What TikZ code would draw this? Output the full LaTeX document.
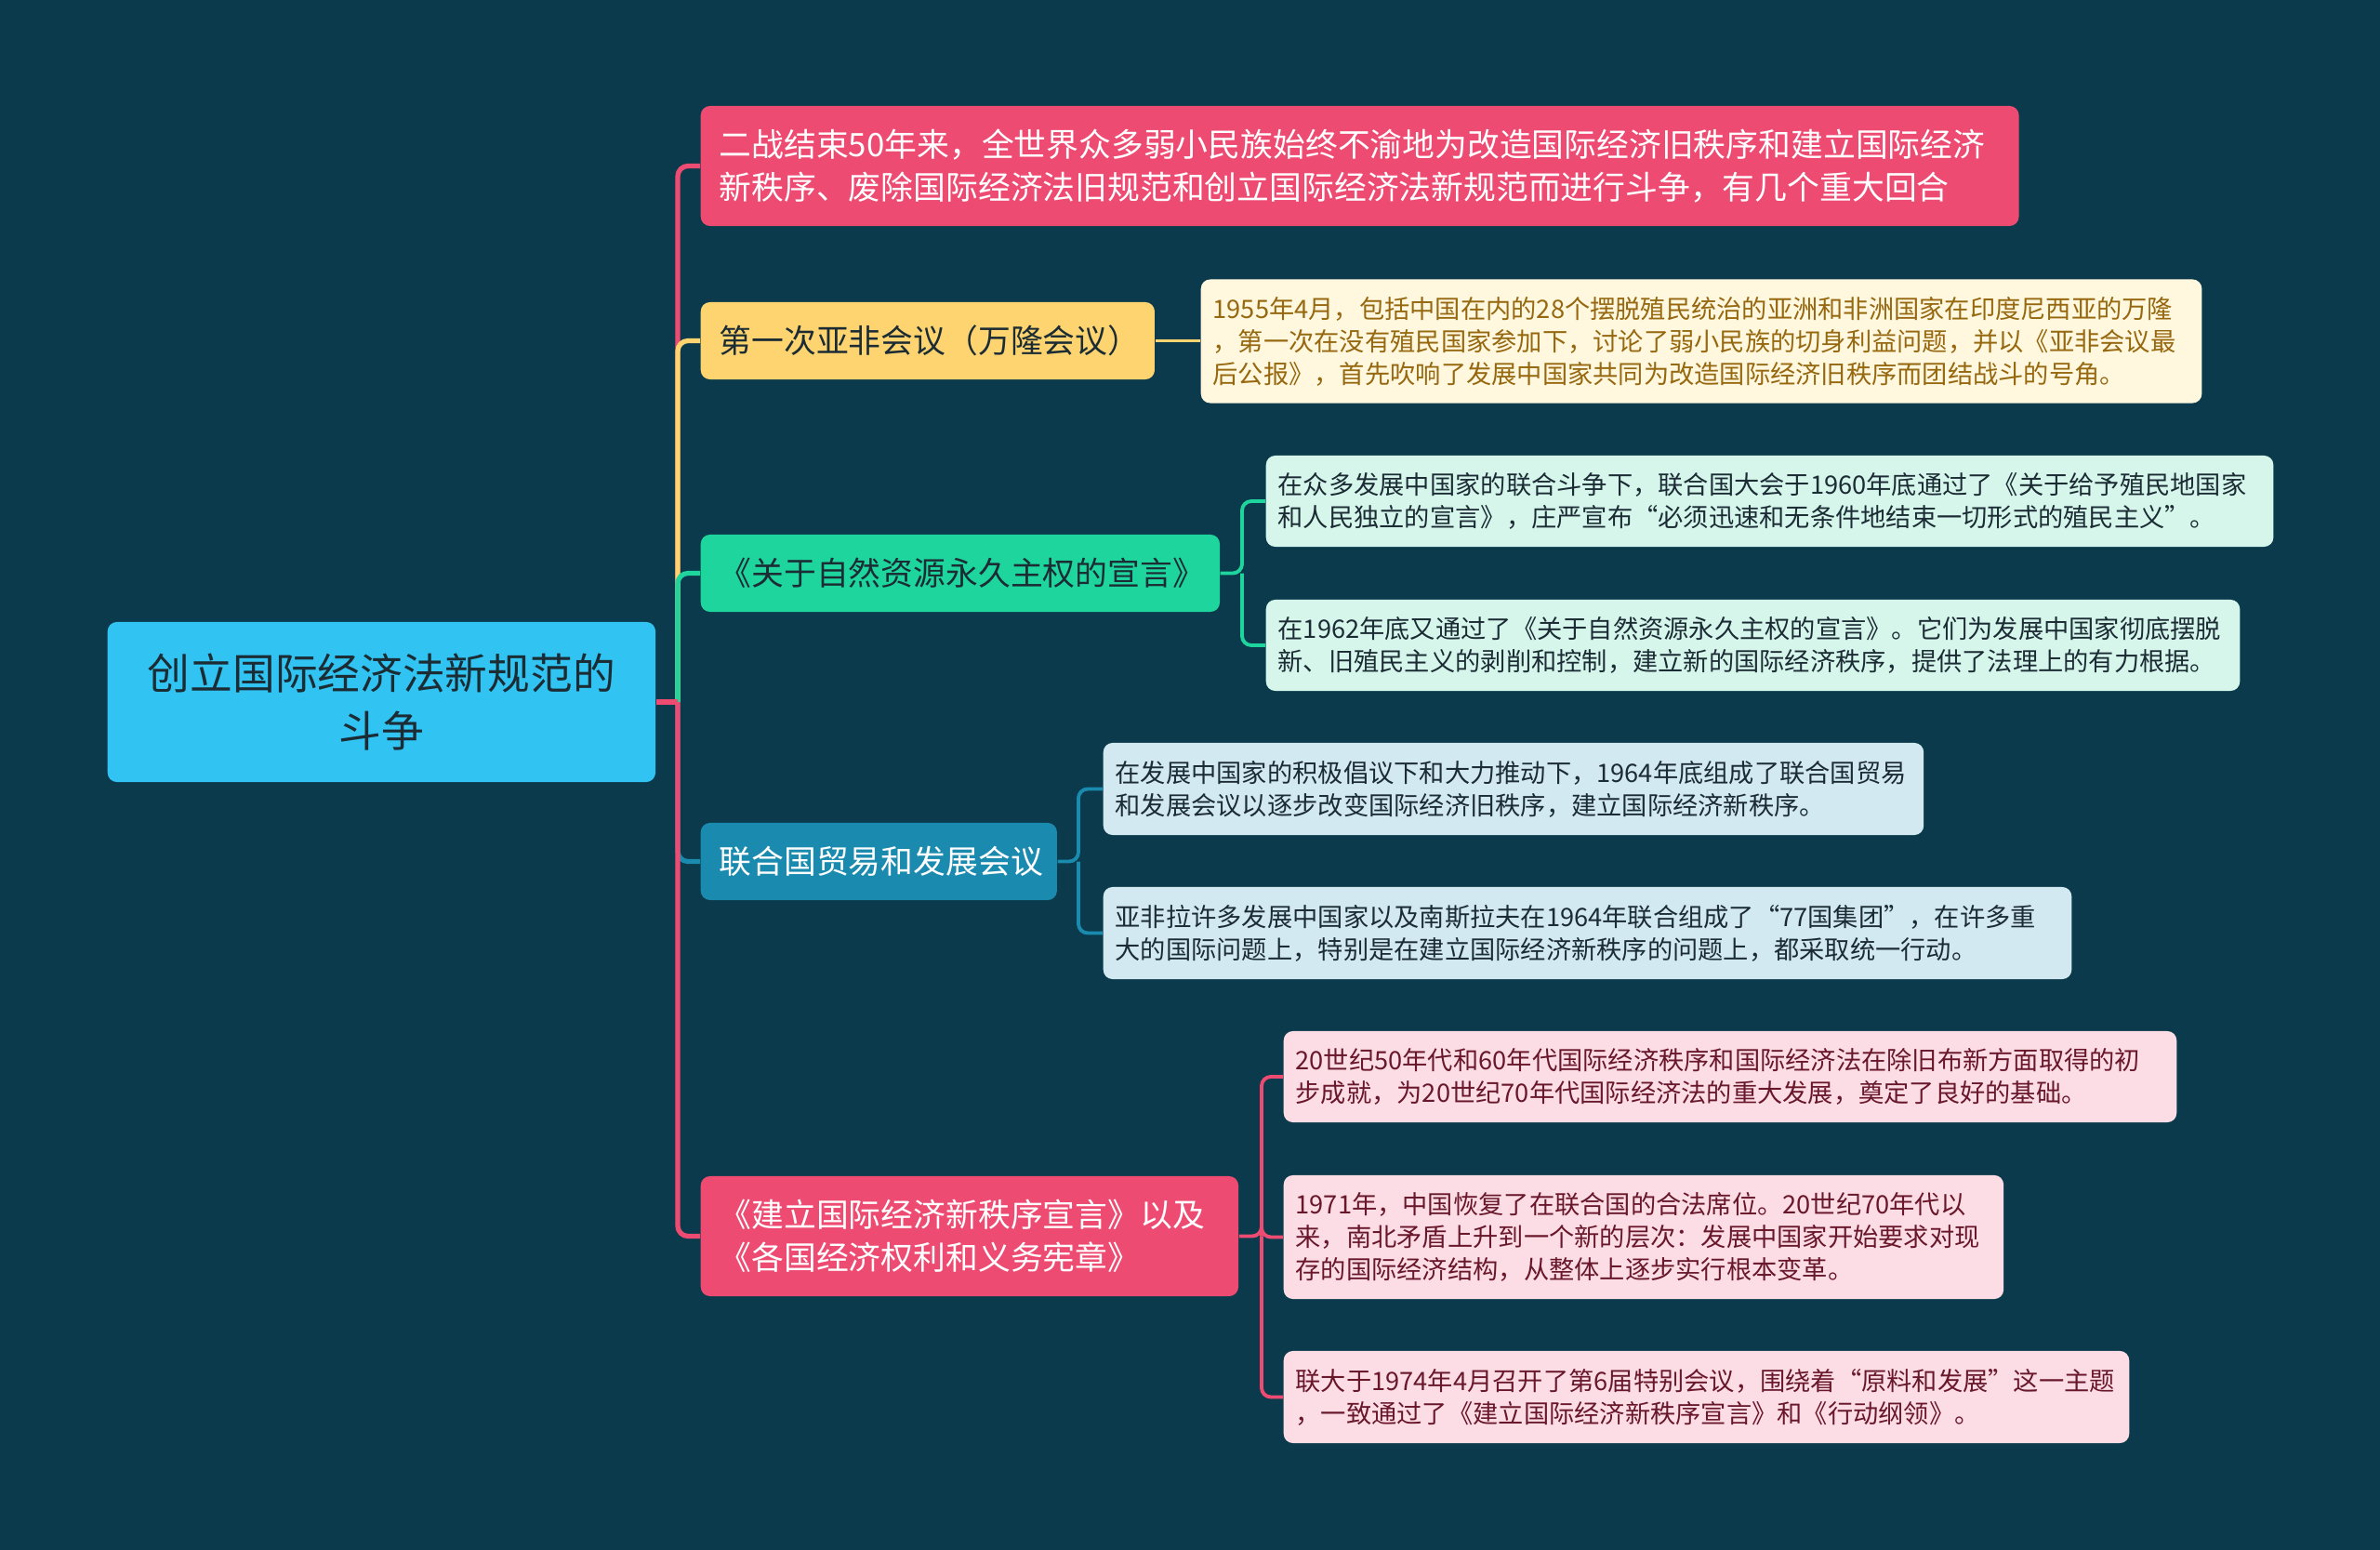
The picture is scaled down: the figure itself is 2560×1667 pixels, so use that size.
\documentclass[tikz,border=0pt]{standalone}
\usepackage{fontspec}
\setmainfont{Noto Sans CJK SC}
\usepackage{tikz}
\usetikzlibrary{positioning,calc}
\usepackage{xcolor}
\definecolor{bgdark}{RGB}{10,58,75}
\definecolor{rootblue}{RGB}{49,196,243}
\definecolor{rosered}{RGB}{238,75,114}
\definecolor{sunyellow}{RGB}{253,212,111}
\definecolor{mintgreen}{RGB}{30,213,157}
\definecolor{seablue}{RGB}{26,139,174}
\definecolor{creamfill}{RGB}{255,247,222}
\definecolor{creamtext}{RGB}{150,104,16}
\definecolor{mintfill}{RGB}{214,246,236}
\definecolor{icefill}{RGB}{210,233,241}
\definecolor{pinkfill}{RGB}{253,221,229}
\definecolor{maroon}{RGB}{105,24,44}
\definecolor{inkdark}{RGB}{28,44,52}
\tikzset{
  topicbox/.style={rectangle, rounded corners=0.1cm, inner xsep=0.2cm, inner ysep=0pt,
                   anchor=west, align=left, font=\fontsize{9.9pt}{13pt}\selectfont},
  notebox/.style={rectangle, rounded corners=0.1cm, inner xsep=0.13cm, inner ysep=0pt,
                  anchor=west, align=left, font=\fontsize{7.75pt}{9.96pt}\selectfont},
  lnk/.style={line width=1.5pt, rounded corners=0.11cm},
}

\begin{document}
\begin{tikzpicture}[
    x=0.01cm, y=-0.01cm,
    rootbox/.style={rectangle, rounded corners=0.1cm, fill=rootblue, text=inkdark,
                    text width=5.49cm, minimum height=1.72cm, inner xsep=0.2cm,
                    anchor=west, align=center, font=\fontsize{13pt}{17.6pt}\selectfont},
    sublnk/.style={line width=1.1pt, rounded corners=0.1cm}
  ]
    \fill[bgdark] (0,0) rectangle (2560,1667);

    % root and main topics
    \node[rootbox] (root) at (115,755) {创立国际经济法新规范的\\斗争};
    \node[topicbox, fill=rosered, text=white, text width=13.77cm, minimum height=1.29cm] (rounds) at (753,178.5)
      {二战结束50年来，全世界众多弱小民族始终不渝地为改造国际经济旧秩序和建立国际经济\\新秩序、废除国际经济法旧规范和创立国际经济法新规范而进行斗争，有几个重大回合};
    \node[topicbox, fill=sunyellow, text=inkdark, text width=4.48cm, minimum height=0.83cm] (bandung) at (753,366.5)
      {第一次亚非会议（万隆会议）};
    \node[topicbox, fill=mintgreen, text=inkdark, text width=5.18cm, minimum height=0.83cm] (resdecl) at (753,616.5)
      {《关于自然资源永久主权的宣言》};
    \node[topicbox, fill=seablue, text=white, text width=3.43cm, minimum height=0.83cm] (unctad) at (753,926.5)
      {联合国贸易和发展会议};
    \node[topicbox, fill=rosered, text=white, text width=5.38cm, minimum height=1.29cm] (neworder) at (753,1329.5)
      {《建立国际经济新秩序宣言》以及\\《各国经济权利和义务宪章》};

    % notes
    \node[notebox, fill=creamfill, text=creamtext, text width=10.5cm, minimum height=1.33cm] (bandungnote) at (1291,367)
      {1955年4月，包括中国在内的28个摆脱殖民统治的亚洲和非洲国家在印度尼西亚的万隆\\，第一次在没有殖民国家参加下，讨论了弱小民族的切身利益问题，并以《亚非会议最\\后公报》，首先吹响了发展中国家共同为改造国际经济旧秩序而团结战斗的号角。};
    \node[notebox, fill=mintfill, text=inkdark, text width=10.57cm, minimum height=0.98cm] (resnotea) at (1361,539)
      {在众多发展中国家的联合斗争下，联合国大会于1960年底通过了《关于给予殖民地国家\\和人民独立的宣言》，庄严宣布“必须迅速和无条件地结束一切形式的殖民主义”。};
    \node[notebox, fill=mintfill, text=inkdark, text width=10.21cm, minimum height=0.98cm] (resnoteb) at (1361,694)
      {在1962年底又通过了《关于自然资源永久主权的宣言》。它们为发展中国家彻底摆脱\\新、旧殖民主义的剥削和控制，建立新的国际经济秩序，提供了法理上的有力根据。};
    \node[notebox, fill=icefill, text=inkdark, text width=8.56cm, minimum height=0.99cm] (unctadnotea) at (1186,848.5)
      {在发展中国家的积极倡议下和大力推动下，1964年底组成了联合国贸易\\和发展会议以逐步改变国际经济旧秩序，建立国际经济新秩序。};
    \node[notebox, fill=icefill, text=inkdark, text width=10.15cm, minimum height=0.99cm] (unctadnoteb) at (1186,1003.5)
      {亚非拉许多发展中国家以及南斯拉夫在1964年联合组成了“77国集团”，在许多重\\大的国际问题上，特别是在建立国际经济新秩序的问题上，都采取统一行动。};
    \node[notebox, fill=pinkfill, text=maroon, text width=9.34cm, minimum height=0.98cm] (ordernotea) at (1380,1158)
      {20世纪50年代和60年代国际经济秩序和国际经济法在除旧布新方面取得的初\\步成就，为20世纪70年代国际经济法的重大发展，奠定了良好的基础。};
    \node[notebox, fill=pinkfill, text=maroon, text width=7.48cm, minimum height=1.33cm] (ordernoteb) at (1380,1330.5)
      {1971年，中国恢复了在联合国的合法席位。20世纪70年代以\\来，南北矛盾上升到一个新的层次：发展中国家开始要求对现\\存的国际经济结构，从整体上逐步实行根本变革。};
    \node[notebox, fill=pinkfill, text=maroon, text width=8.83cm, minimum height=0.99cm] (ordernotec) at (1380,1502.5)
      {联大于1974年4月召开了第6届特别会议，围绕着“原料和发展”这一主题\\，一致通过了《建立国际经济新秩序宣言》和《行动纲领》。};

    % connectors
    \coordinate (hub) at (729,755);
    \coordinate (reshub) at (1336,616.5);
    \coordinate (unctadhub) at (1160,926.5);
    \coordinate (orderhub) at (1357,1329.5);
    \draw[lnk, rosered] (hub) |- (rounds.west);
    \draw[lnk, sunyellow] (hub) |- (bandung.west);
    \draw[lnk, mintgreen] (hub) |- (resdecl.west);
    \draw[lnk, seablue] (hub) |- (unctad.west);
    \draw[lnk, rosered] (hub) |- (neworder.west);
    \draw[line width=1.5pt, rosered] (root.east) -- (hub);

    \draw[sublnk, sunyellow] (bandung.east) -- (bandung.east -| bandungnote.west);
    \draw[sublnk, mintgreen] (resdecl.east) -- (reshub) |- (resnotea.west);
    \draw[sublnk, mintgreen] (reshub) |- (resnoteb.west);
    \draw[sublnk, seablue] (unctad.east) -- (unctadhub) |- (unctadnotea.west);
    \draw[sublnk, seablue] (unctadhub) |- (unctadnoteb.west);
    \draw[sublnk, rosered] (neworder.east) -- (orderhub) |- (ordernotea.west);
    \draw[sublnk, rosered] (orderhub) |- (ordernoteb.west);
    \draw[sublnk, rosered] (orderhub) |- (ordernotec.west);
  \end{tikzpicture}
\end{document}
